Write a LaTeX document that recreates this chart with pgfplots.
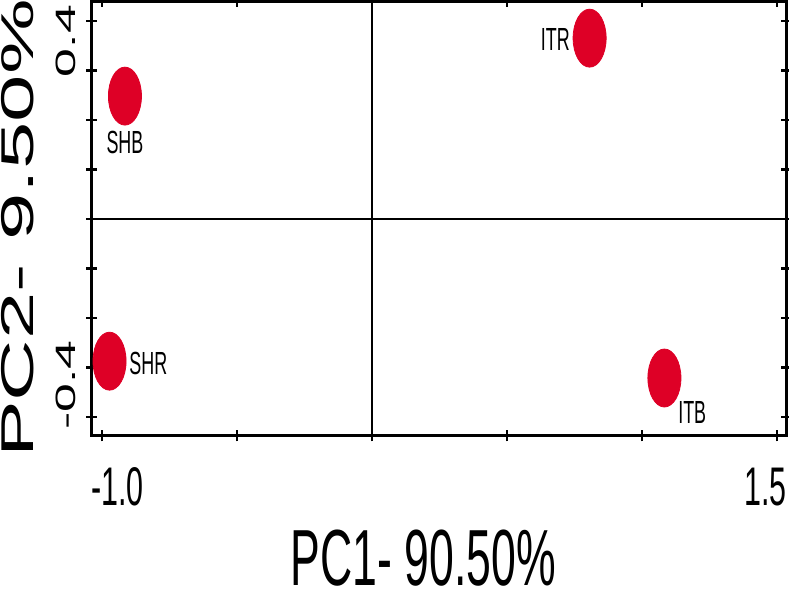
\documentclass[border=0pt]{standalone}
\usepackage{pgfplots}
\pgfplotsset{compat=1.18}
\usepackage{fontspec}
\setmainfont{Liberation Sans}
\newfontfamily\narrowfont[FakeStretch=0.56]{Liberation Sans}
\newfontfamily\widefont[FakeStretch=1.85]{Liberation Sans}
\definecolor{ptred}{RGB}{222,0,38}

\pgfplotsset{
    pcpoint/.style={
        only marks, mark=*, mark size=14.5pt,
        mark options={xscale=0.57, fill=ptred, draw=ptred},
        nodes near coords,
        point meta=explicit symbolic,
    },
}

\begin{document}
\begin{tikzpicture}
\begin{axis}[
    scale only axis,
    width=347.5pt, height=217pt,
    xmin=-1.037, xmax=1.537,
    ymin=-0.438, ymax=0.438,
    axis line style={line width=1.5pt},
    tick style={line width=1.2pt, black},
    tick align=center,
    major tick length=5.5pt,
    xtick={-1,-0.5,0,0.5,1,1.5},
    xticklabels={,,,,,},
    ytick={-0.4,-0.3,-0.2,-0.1,0,0.1,0.2,0.3,0.4},
    yticklabels={,,,,,,,,},
    extra x ticks={-0.943,1.457},
    extra x tick labels={-1.0,1.5},
    extra x tick style={major tick length=0pt},
    extra y ticks={0.359,-0.335},
    extra y tick labels={0.4,-0.4},
    extra y tick style={major tick length=0pt},
    xticklabel style={font=\fontsize{27.2}{30}\narrowfont, anchor=base, inner sep=0pt, yshift=-35pt},
    yticklabel style={font=\fontsize{14}{16}\widefont, xshift=-8pt, rotate=90, anchor=base, inner sep=0pt},
    xlabel={PC1- 90.50\%},
    ylabel={PC2- 9.50\%},
    xlabel style={font=\fontsize{39.8}{44}\narrowfont, at={(axis description cs:0.477,-0.345)}, anchor=base, inner sep=0pt},
    ylabel style={font=\fontsize{23}{26}\widefont, at={(axis description cs:-0.0835,0.478)}, anchor=base, inner sep=0pt},
    clip=false,
    every node near coord/.append style={font=\fontsize{16}{18}\narrowfont, inner sep=0pt, black},
]
\draw[line width=1pt] (axis cs:0,-0.438) -- (axis cs:0,0.438);
\draw[line width=1pt] (axis cs:-1.037,0) -- (axis cs:1.537,0);

\addplot[pcpoint, nodes near coords style={anchor=north, yshift=-17.5pt}]
    coordinates {(-0.915,0.248) [SHB]};
\addplot[pcpoint, nodes near coords style={anchor=west, xshift=9.75pt, yshift=-1.25pt}]
    coordinates {(-0.972,-0.287) [SHR]};
\addplot[pcpoint, nodes near coords style={anchor=east, xshift=-9.75pt, yshift=-0.5pt}]
    coordinates {(0.806,0.365) [ITR]};
\addplot[pcpoint, nodes near coords style={anchor=north west, xshift=6.75pt, yshift=-11.5pt}]
    coordinates {(1.083,-0.321) [ITB]};
\end{axis}
\pgfresetboundingbox
\path[use as bounding box] ([shift={(-46pt,-82pt)}]current axis.south west) rectangle ([shift={(1pt,1pt)}]current axis.north east);
\end{tikzpicture}
\end{document}
